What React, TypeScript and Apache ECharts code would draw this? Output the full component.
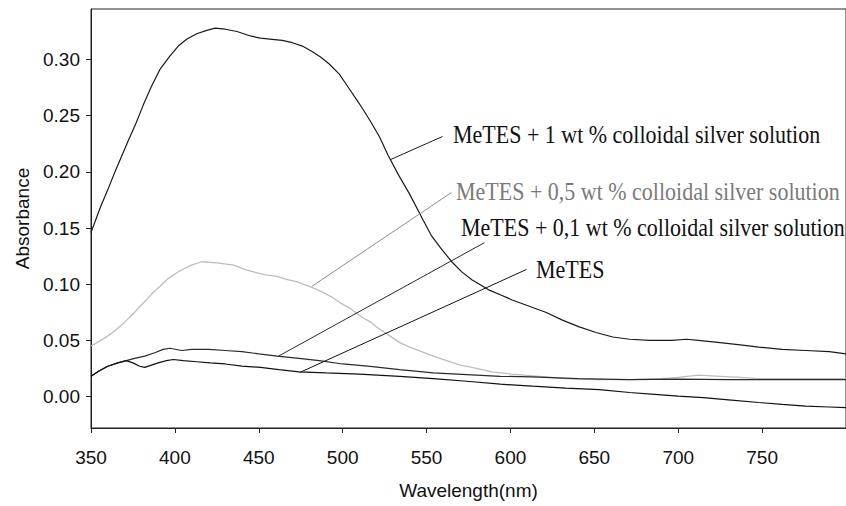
import React, { useEffect, useRef } from "react";
import * as echarts from "echarts";

// MeTES + 1 wt % colloidal silver solution
const wl1 = [350, 353, 356, 360, 364, 368, 372, 377, 381, 386, 391, 397, 402, 407, 413, 419, 424, 430, 437, 445, 451, 458, 464, 470, 476, 482, 487, 492, 498, 503, 508, 512, 517, 522, 527, 533, 540, 548, 553, 558, 565, 571, 577, 587, 595, 601, 610, 621, 631, 641, 651, 661, 671, 683, 696, 705, 712, 725, 737, 748, 762, 776, 790, 800];
const abs1 = [0.146, 0.158, 0.170, 0.184, 0.199, 0.213, 0.227, 0.244, 0.259, 0.276, 0.291, 0.303, 0.312, 0.318, 0.323, 0.326, 0.328, 0.327, 0.325, 0.321, 0.319, 0.318, 0.317, 0.315, 0.312, 0.307, 0.302, 0.296, 0.287, 0.276, 0.265, 0.256, 0.244, 0.231, 0.215, 0.198, 0.180, 0.157, 0.143, 0.133, 0.120, 0.111, 0.104, 0.095, 0.090, 0.086, 0.081, 0.075, 0.068, 0.062, 0.057, 0.053, 0.051, 0.050, 0.050, 0.051, 0.050, 0.048, 0.046, 0.044, 0.042, 0.041, 0.040, 0.038];

// MeTES + 0,5 wt % colloidal silver solution
const wl05 = [350, 356, 362, 370, 376, 381, 386, 391, 396, 403, 410, 416, 425, 435, 442, 449, 455, 461, 467, 473, 482, 488, 493, 499, 505, 511, 517, 522, 528, 534, 540, 547, 554, 562, 570, 577, 589, 601, 617, 633, 650, 671, 690, 700, 712, 725, 737, 748, 765, 780, 800];
const abs05 = [0.045, 0.050, 0.056, 0.066, 0.075, 0.083, 0.091, 0.098, 0.105, 0.112, 0.117, 0.120, 0.119, 0.117, 0.113, 0.110, 0.108, 0.107, 0.104, 0.102, 0.097, 0.093, 0.089, 0.083, 0.078, 0.071, 0.066, 0.060, 0.054, 0.048, 0.044, 0.040, 0.036, 0.032, 0.028, 0.026, 0.022, 0.020, 0.018, 0.016, 0.015, 0.015, 0.016, 0.017, 0.019, 0.018, 0.017, 0.016, 0.016, 0.016, 0.016];

// MeTES + 0,1 wt % colloidal silver solution
const wl01 = [350, 355, 360, 366, 371, 376, 382, 388, 393, 397, 404, 410, 420, 430, 440, 450, 461, 474, 486, 500, 515, 534, 554, 574, 594, 613, 640, 671, 700, 730, 760, 800];
const abs01 = [0.018, 0.023, 0.027, 0.030, 0.032, 0.034, 0.036, 0.039, 0.042, 0.043, 0.041, 0.042, 0.042, 0.041, 0.040, 0.038, 0.036, 0.034, 0.032, 0.029, 0.027, 0.024, 0.021, 0.0195, 0.018, 0.0175, 0.016, 0.015, 0.0155, 0.015, 0.015, 0.015];

// MeTES
const wl0 = [350, 355, 360, 366, 371, 375, 379, 382, 386, 390, 395, 399, 405, 413, 421, 430, 440, 451, 462, 474, 490, 510, 534, 554, 574, 594, 613, 633, 653, 671, 686, 700, 715, 730, 748, 762, 776, 790, 800];
const abs0 = [0.018, 0.023, 0.027, 0.030, 0.032, 0.030, 0.027, 0.026, 0.028, 0.030, 0.032, 0.033, 0.032, 0.031, 0.030, 0.029, 0.027, 0.026, 0.024, 0.022, 0.021, 0.020, 0.018, 0.016, 0.0136, 0.011, 0.0092, 0.0075, 0.0062, 0.0036, 0.002, 0.0003, -0.001, -0.003, -0.0053, -0.007, -0.0086, -0.0093, -0.0098];

const xTicks = [350, 400, 450, 500, 550, 600, 650, 700, 750];
const yTicks = [0, 0.05, 0.1, 0.15, 0.2, 0.25, 0.3];

const seriesNames = [
  "MeTES + 1 wt % colloidal silver solution",
  "MeTES + 0,5 wt % colloidal silver solution",
  "MeTES + 0,1 wt % colloidal silver solution",
  "MeTES",
];

// leader lines: [wavelength, absorbance] start on the curve -> end near the label
const leader1 = [[528.6, 0.211], [559.5, 0.2315]];
const leader05 = [[481.5, 0.098], [564.9, 0.1817]];
const leader01 = [[461.3, 0.0356], [584.5, 0.137]];
const leader0 = [[474.4, 0.0214], [609.5, 0.1131]];

const zip = (xs: number[], ys: number[]) => xs.map((x, i) => [x, ys[i]]);

const leaderLine = (pts: number[][], color: string) => ({
  symbol: "none",
  silent: true,
  label: { show: false },
  lineStyle: { color, width: 1, type: "solid" },
  data: [[{ coord: pts[0] }, { coord: pts[1] }]],
});

export default function App() {
  const ref = useRef<HTMLDivElement>(null);
  useEffect(() => {
    const chart = echarts.init(ref.current!, null, { renderer: "svg" });
    const axisFont = { fontFamily: "Liberation Sans", fontSize: 19, color: "#111" };
    const annFont = (text: string, x: number, y: number, fill: string) => ({
      type: "text",
      x,
      y,
      scaleY: 1.12,
      silent: true,
      style: {
        text,
        fontFamily: "Liberation Serif",
        fontSize: 22,
        fill,
        align: "left",
        verticalAlign: "middle",
      },
    });
    chart.setOption({
      animation: false,
      backgroundColor: "#ffffff",
      grid: {
        left: 91,
        top: 9,
        width: 757,
        height: 419,
        show: true,
        borderColor: "#222",
        borderWidth: 1,
        backgroundColor: "transparent",
      },
      xAxis: {
        type: "value",
        min: 350,
        max: 800,
        name: "Wavelength(nm)",
        nameLocation: "middle",
        nameGap: 53,
        nameTextStyle: { ...axisFont },
        axisLine: { onZero: false, lineStyle: { color: "#222", width: 1 } },
        axisTick: { customValues: xTicks, length: 5, lineStyle: { color: "#222" } },
        axisLabel: { customValues: xTicks, margin: 20, ...axisFont },
        splitLine: { show: false },
      },
      yAxis: {
        type: "value",
        min: -0.028,
        max: 0.345,
        name: "Absorbance",
        nameLocation: "middle",
        nameGap: 58,
        nameTextStyle: { ...axisFont },
        axisLine: { show: true, lineStyle: { color: "#222", width: 1 } },
        axisTick: { show: true, customValues: yTicks, length: 5, lineStyle: { color: "#222" } },
        axisLabel: {
          customValues: yTicks,
          margin: 11,
          formatter: (v: number) => v.toFixed(2),
          ...axisFont,
        },
        splitLine: { show: false },
      },
      series: [
        {
          name: seriesNames[1],
          type: "line",
          data: zip(wl05, abs05),
          showSymbol: false,
          symbol: "none",
          lineStyle: { color: "#bdbdbd", width: 1.3 },
          z: 1,
          markLine: leaderLine(leader05, "#8c8c8c"),
        },
        {
          name: seriesNames[0],
          type: "line",
          data: zip(wl1, abs1),
          showSymbol: false,
          symbol: "none",
          lineStyle: { color: "#1a1a1a", width: 1.2 },
          z: 2,
          markLine: leaderLine(leader1, "#1a1a1a"),
        },
        {
          name: seriesNames[2],
          type: "line",
          data: zip(wl01, abs01),
          showSymbol: false,
          symbol: "none",
          lineStyle: { color: "#2a2a2a", width: 1.2 },
          z: 2,
          markLine: leaderLine(leader01, "#2a2a2a"),
        },
        {
          name: seriesNames[3],
          type: "line",
          data: zip(wl0, abs0),
          showSymbol: false,
          symbol: "none",
          lineStyle: { color: "#111", width: 1.2 },
          z: 2,
          markLine: leaderLine(leader0, "#111"),
        },
      ],
      graphic: [
        annFont(seriesNames[0], 453, 135, "#111"),
        annFont(seriesNames[1], 456, 192, "#7a7a7a"),
        annFont(seriesNames[2], 461, 228, "#111"),
        annFont(seriesNames[3], 536, 270, "#111"),
      ],
    });
    return () => chart.dispose();
  }, []);
  return (
    <div
      ref={ref}
      style={{ position: "fixed", left: 0, top: 0, width: 846, height: 506, background: "#fff" }}
    />
  );
}
